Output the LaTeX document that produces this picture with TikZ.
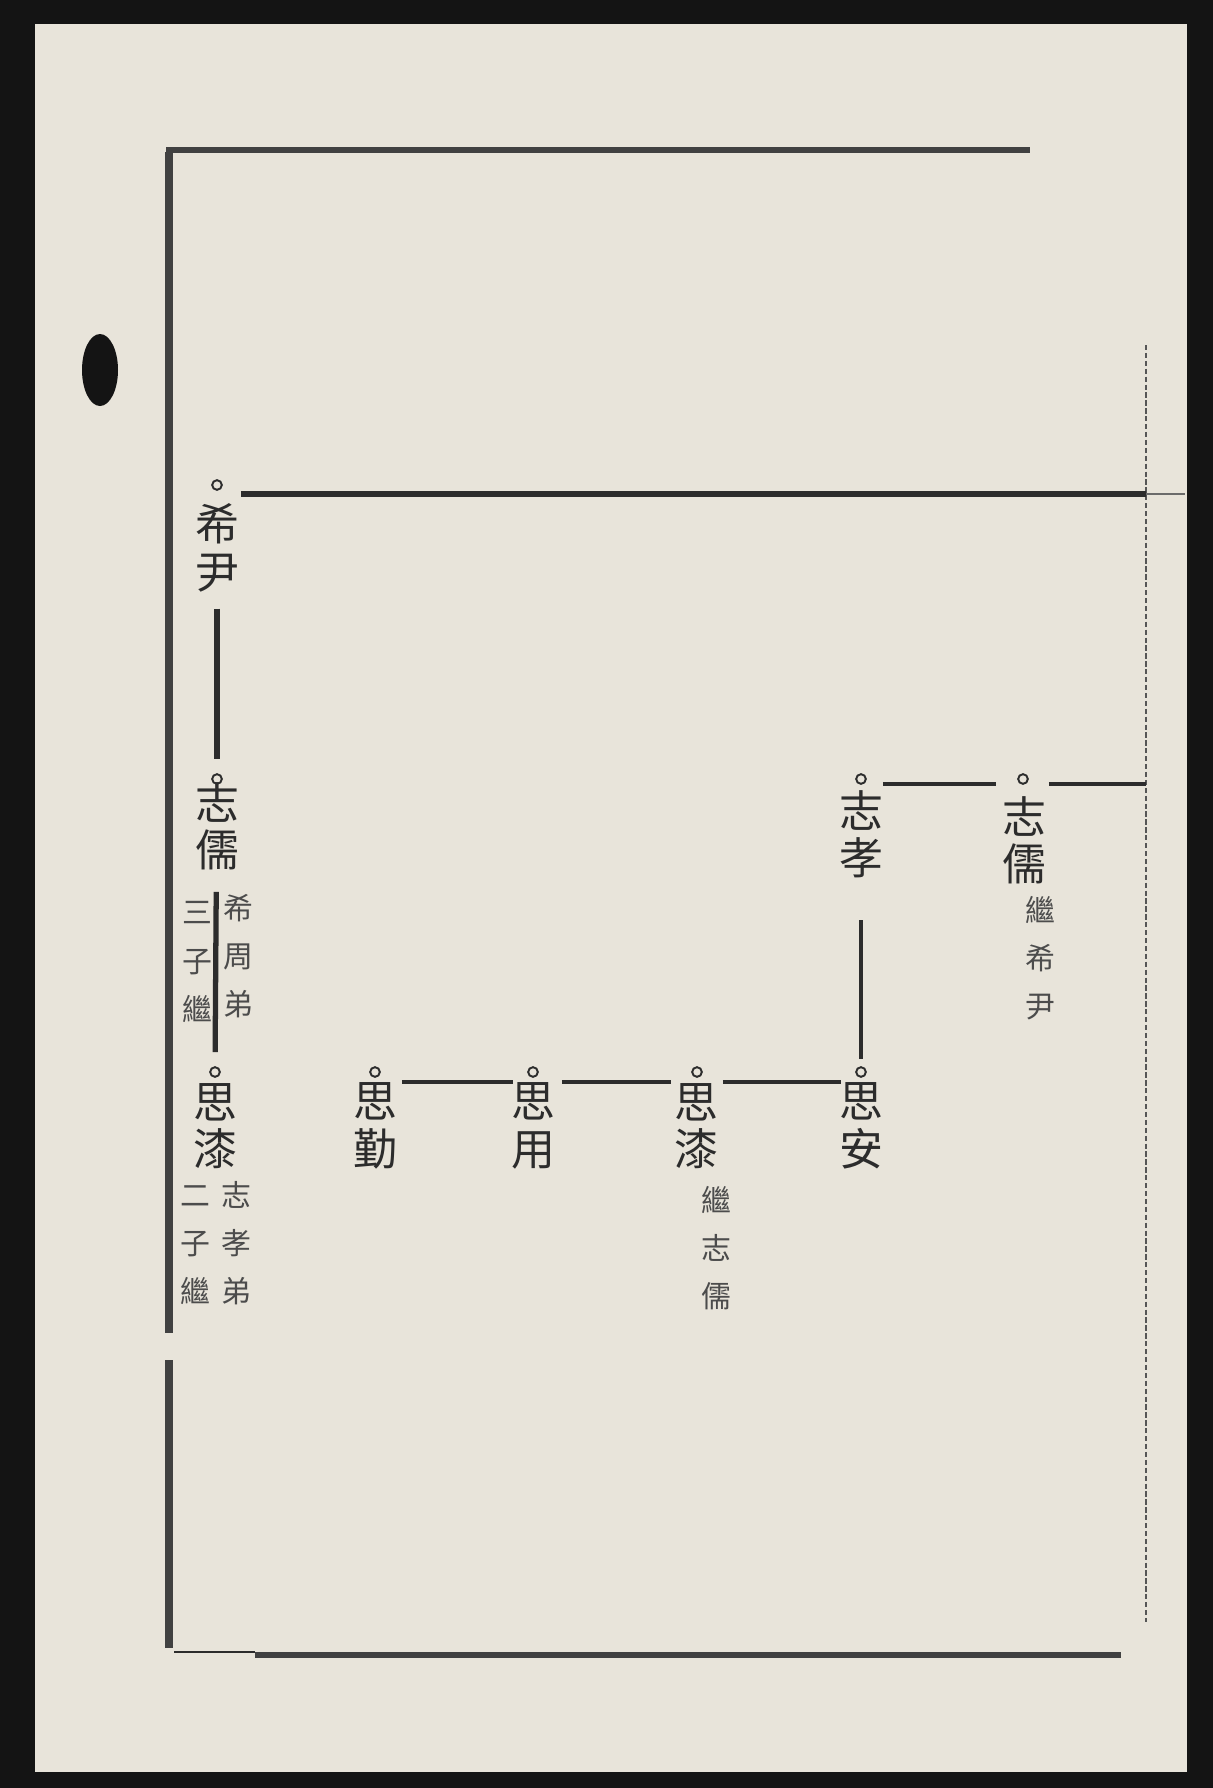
\documentclass[tikz,border=0pt]{standalone}
\usepackage{fontspec}
\newfontfamily\cjk{Noto Sans CJK TC}
\definecolor{paper}{HTML}{E8E4DA}
\definecolor{ink}{HTML}{2C2C2C}
\definecolor{edge}{HTML}{141414}
\tikzset{
  person/.style={font=\cjk\fontsize{25}{27}\selectfont, text=ink, align=center, inner sep=0pt},
  remark/.style={font=\cjk\fontsize{17}{27.5}\selectfont, text=ink!85, align=center, inner sep=0pt},
  ring/.style={circle, draw=ink, line width=1.1pt, inner sep=0pt, minimum size=5.5pt},
  link/.style={draw=ink, line width=2.5pt},
  framerule/.style={draw=ink!90, line width=3.6pt},
}

\begin{document}
\begin{tikzpicture}[x=0.02cm, y=-0.02cm]

	% page and frame
	\fill[edge] (0,0) rectangle (1213,1788);
	\fill[paper] (35,24) rectangle (1187,1772);
	\useasboundingbox (0,0) rectangle (1213,1788);
	\fill[edge] (100,370) ellipse [x radius=18, y radius=36];
	
	\draw[framerule] (166,150) -- (1030,150);
	\draw[framerule, line width=4.5pt] (169,152) -- (169,1333);
	\draw[framerule, line width=4.5pt] (169,1360) -- (169,1648);
	\draw[framerule] (255,1655) -- (1121,1655);
	\draw[ink, line width=1pt] (174,1652) -- (255,1652);
	\draw[ink!80, line width=1pt, dash pattern=on 3pt off 1.5pt] (1146,345) -- (1146,1622);
	
	\coordinate (rim-a) at (1146,494);
	\coordinate (rim-b) at (1146,784);
	
	% left column
	\node[ring] (xiyin-o) at (217,485) {};
	\node[person] (xiyin) at (217,548) {希\\尹};
	
	\node[ring] (zhiru1-o) at (217,779) {};
	\node[person] (zhiru1) at (217,826) {志\\儒};
	\node[remark] (zhiru1-r) at (238,956) {希\\周\\弟};
	\node[remark] (zhiru1-l) at (197,962) {三\\子\\繼};
	
	\node[ring] (siqi1-o) at (215,1072) {};
	\node[person] (siqi1) at (215,1126) {思\\漆};
	\node[remark] (siqi1-r) at (236,1243) {志\\孝\\弟};
	\node[remark] (siqi1-l) at (195,1245) {二\\子\\繼};
	
	% right block
	\node[ring] (zhixiao-o) at (861,779) {};
	\node[person] (zhixiao) at (861,834) {志\\孝};
	\node[ring] (zhiru2-o) at (1023,779) {};
	\node[person] (zhiru2) at (1024,840) {志\\儒};
	\node[remark] (zhiru2-n) at (1040,958) {繼\\希\\尹};
	
	\node[ring] (sian-o) at (861,1072) {};
	\node[person] (sian) at (861,1126) {思\\安};
	\node[ring] (siqi2-o) at (697,1072) {};
	\node[person] (siqi2) at (696,1126) {思\\漆};
	\node[remark] (siqi2-n) at (716,1248) {繼\\志\\儒};
	\node[ring] (siyong-o) at (533,1072) {};
	\node[person] (siyong) at (533,1126) {思\\用};
	\node[ring] (siqin-o) at (375,1072) {};
	\node[person] (siqin) at (375,1126) {思\\勤};
	
	% lines
	\draw[link, line width=3pt] ([shift={(18,9)}]xiyin-o.east) -- (rim-a);
	\draw[ink!70, line width=0.8pt] (rim-a) -- ++(39,0);
	\draw[link, line width=3pt, shorten <=67pt, shorten >=8pt] (xiyin-o) -- (zhiru1-o);
	\draw[link, line width=3pt, shorten <=61pt, shorten >=8pt] (zhiru1-o) -- (siqi1-o);
	
	\draw[link] ([shift={(16,5)}]zhixiao-o.east) -- ([shift={(-21,5)}]zhiru2-o.west);
	\draw[link] ([shift={(20,5)}]zhiru2-o.east) -- (rim-b);
	\draw[link, shorten <=77pt, shorten >=4pt] (zhixiao-o) -- (sian-o);
	
	\draw[link] ([shift={(21,10)}]siqin-o.east) -- ([shift={(-14,10)}]siyong-o.west);
	\draw[link] ([shift={(23,10)}]siyong-o.east) -- ([shift={(-20,10)}]siqi2-o.west);
	\draw[link] ([shift={(20,10)}]siqi2-o.east) -- ([shift={(-14,10)}]sian-o.west);
\end{tikzpicture}
\end{document}
